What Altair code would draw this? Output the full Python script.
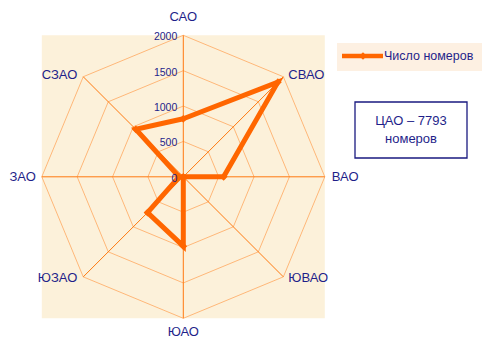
import math
import altair as alt
import pandas as pd

# ---- data ----
districts = ["САО", "СВАО", "ВАО", "ЮВАО", "ЮАО", "ЮЗАО", "ЗАО", "СЗАО"]
rooms = [820, 1890, 570, 0, 980, 715, 60, 950]
ticks = [0, 500, 1000, 1500, 2000]
series_name = "Число номеров"
note_lines = ["ЦАО – 7793", "номеров"]

# ---- layout ----
W, H = 482, 339
CX, CY = 183.3, 176.8
RPX = 141.5
RMAX = 2000
k = RMAX / RPX  # data units per pixel
xdom = [-CX * k, (W - CX) * k]
ydom = [-(H - CY) * k, CY * k]
xs = alt.Scale(domain=xdom, nice=False, zero=False)
ys = alt.Scale(domain=ydom, nice=False, zero=False)
NAVY = "#1f1f8a"
ORANGE = "#FF6600"
FONT = "Liberation Sans"


def ang(i):
    return math.radians(i * 45)


def X(field):
    return alt.X(field, type="quantitative", scale=xs, axis=None)


def Y(field):
    return alt.Y(field, type="quantitative", scale=ys, axis=None)


one = pd.DataFrame({"a": [0]})

# background
bg = alt.Chart(one).mark_rect(fill="#FCF1DA").encode(
    x=alt.value(CX - RPX), x2=alt.value(CX + RPX),
    y=alt.value(CY - RPX), y2=alt.value(CY + RPX))

# grid octagons
grid_rows = []
for r in ticks[1:]:
    for j in range(9):
        a = ang(j % 8)
        grid_rows.append({"ring": r, "o": j, "x": r * math.sin(a), "y": r * math.cos(a)})
grid = alt.Chart(pd.DataFrame(grid_rows)).mark_line(
    color="#FFA860", strokeWidth=0.8).encode(
    x=X("x"), y=Y("y"), detail="ring:N", order="o:Q")

# spokes
spk_rows = []
for i in range(8):
    a = ang(i)
    spk_rows.append({"s": i, "o": 0, "x": 0.0, "y": 0.0})
    spk_rows.append({"s": i, "o": 1, "x": RMAX * math.sin(a), "y": RMAX * math.cos(a)})
spokes = alt.Chart(pd.DataFrame(spk_rows)).mark_line(color="#FF7A10", strokeWidth=1).encode(
    x=X("x"), y=Y("y"), detail="s:N", order="o:Q")

# data series
pts = []
for j in range(9):
    i = j % 8
    a = ang(i)
    pts.append({"o": j, "d": districts[i], "v": rooms[i],
                "x": rooms[i] * math.sin(a), "y": rooms[i] * math.cos(a)})
sdf = pd.DataFrame(pts)
line = alt.Chart(sdf).mark_line(color=ORANGE, strokeWidth=5, strokeJoin="miter").encode(
    x=X("x"), y=Y("y"), order="o:Q")
marks = alt.Chart(sdf.iloc[:8]).mark_point(
    shape="diamond", filled=True, color=ORANGE, size=60, opacity=1).encode(
    x=X("x"), y=Y("y"))

# tick labels
tdf = pd.DataFrame({"t": [str(t) for t in ticks], "x": [0] * len(ticks), "y": ticks})
tlabels = alt.Chart(tdf).mark_text(
    align="right", baseline="middle", dx=-6, dy=2, fontSize=10.5, font=FONT, color=NAVY).encode(
    x=X("x"), y=Y("y"), text="t:N")

# category labels
offsets = {0: (0, -18, "center"), 1: (5, -2, "left"), 2: (7, 0, "left"), 3: (5, 1, "left"),
           4: (0, 14, "center"), 5: (-6, 1, "right"), 6: (-6, 0, "right"), 7: (-6, -2, "right")}
lab_layers = []
for al in ["center", "left", "right"]:
    rows = []
    for i, d in enumerate(districts):
        ox, oy, a_ = offsets[i]
        if a_ != al:
            continue
        a = ang(i)
        rows.append({"d": d, "x": RMAX * math.sin(a) + ox * k, "y": RMAX * math.cos(a) - oy * k})
    lab_layers.append(alt.Chart(pd.DataFrame(rows)).mark_text(
        align=al, baseline="middle", fontSize=13, font=FONT, color=NAVY).encode(
        x=X("x"), y=Y("y"), text="d:N"))

# legend
leg_bg = alt.Chart(one).mark_rect(fill="#FDF0E2").encode(
    x=alt.value(337), x2=alt.value(482), y=alt.value(43), y2=alt.value(71))
leg_line = alt.Chart(one).mark_rule(color=ORANGE, strokeWidth=4.5).encode(
    x=alt.value(342), x2=alt.value(383), y=alt.value(56))
leg_pt = alt.Chart(one).mark_point(shape="diamond", filled=True, color=ORANGE, size=55, opacity=1).encode(
    x=alt.value(363), y=alt.value(56))
leg_txt = alt.Chart(pd.DataFrame({"t": [series_name]})).mark_text(
    align="left", baseline="middle", fontSize=12.5, font=FONT, color=NAVY).encode(
    x=alt.value(384), y=alt.value(56), text="t:N")

# note box
note_box = alt.Chart(one).mark_rect(fill="white", stroke="#1a1a80", strokeWidth=1.3).encode(
    x=alt.value(355), x2=alt.value(467), y=alt.value(102), y2=alt.value(158))
note1 = alt.Chart(pd.DataFrame({"t": [note_lines[0]]})).mark_text(
    align="center", baseline="middle", fontSize=13, font=FONT, color=NAVY).encode(
    x=alt.value(411), y=alt.value(121), text="t:N")
note2 = alt.Chart(pd.DataFrame({"t": [note_lines[1]]})).mark_text(
    align="center", baseline="middle", fontSize=13, font=FONT, color=NAVY).encode(
    x=alt.value(411), y=alt.value(139), text="t:N")

chart = alt.layer(
    bg, grid, spokes, line, marks, tlabels, *lab_layers,
    leg_bg, leg_line, leg_pt, leg_txt, note_box, note1, note2
).properties(
    width=W, height=H, autosize=alt.AutoSizeParams(type="none"), padding=0, background="white"
).configure_view(stroke=None)

chart.save("out.html", embed_options={"renderer": "svg", "actions": False})
